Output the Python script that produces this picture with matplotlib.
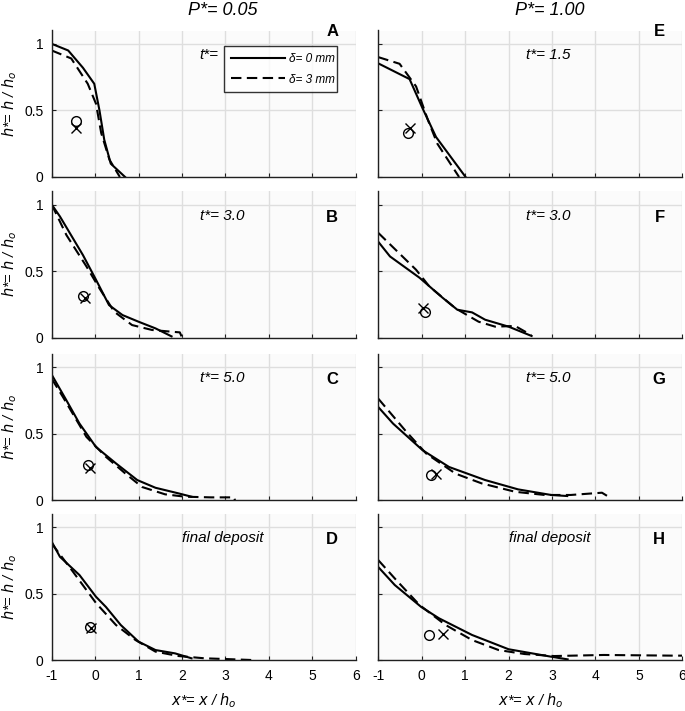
import matplotlib
matplotlib.use('Agg')
import matplotlib.pyplot as plt
from matplotlib.lines import Line2D

plt.rcParams['font.family'] = ['Liberation Sans', 'DejaVu Sans']
plt.rcParams['axes.unicode_minus'] = False

# profiles: x* and h* for delta = 0 mm (solid) and 3 mm (dashed)
a_x0 = [-1.0, -0.62, -0.28, -0.02, 0.10, 0.21, 0.36, 0.69]
a_h0 = [1.0, 0.95, 0.82, 0.70, 0.50, 0.28, 0.10, 0.0]
a_x3 = [-1.0, -0.55, -0.17, 0.02, 0.14, 0.33, 0.57]
a_h3 = [0.95, 0.89, 0.70, 0.55, 0.33, 0.13, 0.0]

b_x0 = [-1.0, -0.81, -0.28, 0.02, 0.32, 0.63, 1.0, 1.39, 1.76]
b_h0 = [1.0, 0.91, 0.62, 0.435, 0.245, 0.17, 0.12, 0.07, 0.01]
b_x3 = [-1.0, -0.66, -0.20, 0.10, 0.44, 0.85, 1.31, 1.76, 1.95, 1.99]
b_h3 = [1.0, 0.77, 0.535, 0.37, 0.195, 0.095, 0.058, 0.045, 0.04, 0.01]

c_x0 = [-1.0, -0.66, -0.36, 0.02, 0.48, 0.97, 1.39, 1.92, 2.22]
c_h0 = [0.943, 0.75, 0.576, 0.40, 0.277, 0.152, 0.094, 0.052, 0.027]
c_x3 = [-1.0, -0.74, -0.20, 0.25, 0.70, 1.08, 1.61, 2.07, 2.67, 3.20, 3.22]
c_h3 = [0.913, 0.775, 0.476, 0.326, 0.20, 0.10, 0.045, 0.027, 0.022, 0.022, 0.0]

d_x0 = [-1.0, -0.81, -0.36, 0.02, 0.25, 0.59, 1.0, 1.39, 1.84, 2.22]
d_h0 = [0.89, 0.777, 0.64, 0.477, 0.40, 0.265, 0.14, 0.077, 0.052, 0.015]
d_x3 = [-1.0, -0.51, 0.02, 0.48, 0.93, 1.39, 1.92, 2.52, 3.13, 3.62]
d_h3 = [0.877, 0.665, 0.43, 0.265, 0.152, 0.065, 0.032, 0.015, 0.008, 0.002]

e_x0 = [-1.0, -0.28, 0.02, 0.33, 1.01]
e_h0 = [0.853, 0.735, 0.515, 0.30, 0.0]
e_x3 = [-1.0, -0.51, -0.13, 0.14, 0.36, 0.86]
e_h3 = [0.90, 0.85, 0.68, 0.43, 0.25, 0.0]

f_x0 = [-1.0, -0.73, -0.05, 0.48, 0.82, 1.16, 1.46, 2.0, 2.53]
f_h0 = [0.72, 0.61, 0.45, 0.30, 0.21, 0.19, 0.135, 0.083, 0.013]
f_x3 = [-1.0, -0.13, 0.175, 0.78, 1.31, 1.69, 2.15, 2.52]
f_h3 = [0.787, 0.51, 0.385, 0.22, 0.12, 0.083, 0.088, 0.02]

g_x0 = [-1.0, -0.66, 0.02, 0.63, 1.46, 2.22, 2.98, 3.35]
g_h0 = [0.70, 0.576, 0.376, 0.25, 0.152, 0.082, 0.04, 0.032]
g_x3 = [-1.0, -0.35, 0.10, 0.78, 1.38, 2.15, 2.83, 3.43, 4.15, 4.30]
g_h3 = [0.763, 0.513, 0.352, 0.20, 0.127, 0.064, 0.04, 0.04, 0.057, 0.027]

h_x0 = [-1.0, -0.62, -0.01, 0.40, 1.16, 2.0, 2.98, 3.36]
h_h0 = [0.70, 0.565, 0.40, 0.315, 0.19, 0.083, 0.027, 0.007]
h_x3 = [-1.0, -0.58, -0.05, 0.55, 1.16, 1.77, 2.37, 3.05, 4.19, 5.78, 6.0]
h_h3 = [0.752, 0.60, 0.415, 0.265, 0.152, 0.077, 0.047, 0.032, 0.04, 0.035, 0.035]

# centre-of-mass markers: circle (delta = 0 mm), cross (delta = 3 mm)
circ_x = [-0.45, -0.28, -0.17, -0.11, -0.32, 0.08, 0.21, 0.175]
circ_h = [0.42, 0.315, 0.264, 0.248, 0.33, 0.195, 0.19, 0.19]
cross_x = [-0.43, -0.24, -0.11, -0.09, -0.28, 0.02, 0.33, 0.48]
cross_h = [0.37, 0.30, 0.24, 0.24, 0.365, 0.22, 0.20, 0.198]

panel_letters = ['A', 'B', 'C', 'D', 'E', 'F', 'G', 'H']
time_labels = ['t*=', 't*= 3.0', 't*= 5.0', 'final deposit',
               't*= 1.5', 't*= 3.0', 't*= 5.0', 'final deposit']
column_titles = ['P*= 0.05', 'P*= 1.00']

solids = [(a_x0, a_h0), (b_x0, b_h0), (c_x0, c_h0), (d_x0, d_h0),
          (e_x0, e_h0), (f_x0, f_h0), (g_x0, g_h0), (h_x0, h_h0)]
dashes = [(a_x3, a_h3), (b_x3, b_h3), (c_x3, c_h3), (d_x3, d_h3),
          (e_x3, e_h3), (f_x3, f_h3), (g_x3, g_h3), (h_x3, h_h3)]

DASH = (0, (5, 2.6))

fig = plt.figure(figsize=(6.85, 7.11), dpi=100)

W, H = 685.0, 711.0
lefts = [51.7, 378.3]
bottoms = [177.0, 337.7, 500.3, 660.3]
ax_w, ax_h = 304.0, 146.5

for i in range(8):
    col, row = i // 4, i % 4
    ax = fig.add_axes([lefts[col] / W, 1 - bottoms[row] / H, ax_w / W, ax_h / H])
    ax.set_facecolor('#fbfbfb')
    ax.set_xlim(-1, 6)
    ax.set_ylim(0, 1.1)
    ax.set_xticks(range(-1, 7))
    ax.set_yticks([0, 0.5, 1])
    ax.set_yticklabels(['0', '0.5', '1'])
    ax.grid(True, color='#dedede', linewidth=1.0)
    ax.set_axisbelow(True)
    for s in ['top', 'right']:
        ax.spines[s].set_visible(False)
    for s in ['left', 'bottom']:
        ax.spines[s].set_linewidth(1.0)
        ax.spines[s].set_color('#202020')
    ax.tick_params(direction='in', length=3, width=0.8, labelsize=10,
                   color='#202020', pad=6)
    if row < 3:
        ax.tick_params(labelbottom=False)
    if col == 1:
        ax.tick_params(labelleft=False)
    if col == 0:
        ax.set_ylabel('$h$*= $h$ / $h_o$', fontsize=10.5, style='italic', labelpad=4)
    if row == 3:
        ax.set_xlabel('$x$*= $x$ / $h_o$', fontsize=10.5, style='italic', labelpad=6)

    sx, sy = solids[i]
    dx, dy = dashes[i]
    ax.plot(sx, sy, color='black', linewidth=1.5, solid_joinstyle='round')
    ax.plot(dx, dy, color='black', linewidth=1.5, linestyle=DASH)
    ax.plot(circ_x[i], circ_h[i], marker='o', markersize=7, markerfacecolor='none',
            markeredgecolor='black', markeredgewidth=1.0, linestyle='none')
    ax.plot(cross_x[i], cross_h[i], marker='x', markersize=7.5,
            markeredgecolor='black', markeredgewidth=1.0, linestyle='none')

    tx = 2.0 if row == 3 else 2.41
    ax.text(tx, 0.915, time_labels[i], fontsize=11, style='italic',
            ha='left', va='center')
    ly = 1.09 if row == 0 else 0.905
    ax.text(5.6, ly, panel_letters[i], fontsize=12, fontweight='bold',
            ha='right', va='center')
    if row == 0:
        ax.text(2.94, 1.25, column_titles[col], fontsize=13, style='italic',
                ha='center', va='center', clip_on=False)
    if i == 0:
        handles = [Line2D([], [], color='black', linewidth=1.5),
                   Line2D([], [], color='black', linewidth=1.5, linestyle=DASH)]
        leg = ax.legend(handles, ['δ= 0 mm', 'δ= 3 mm'], loc='upper left',
                        bbox_to_anchor=(0.568, 0.893, 0.37, 0.0), mode='expand',
                        fontsize=8.5, frameon=True, fancybox=False,
                        handlelength=4.6, handletextpad=0.3, borderpad=0.55,
                        labelspacing=0.75, borderaxespad=0)
        leg.get_frame().set_edgecolor('black')
        leg.get_frame().set_linewidth(1.0)
        for t in leg.get_texts():
            t.set_style('italic')

fig.savefig('out.png', dpi=100)
